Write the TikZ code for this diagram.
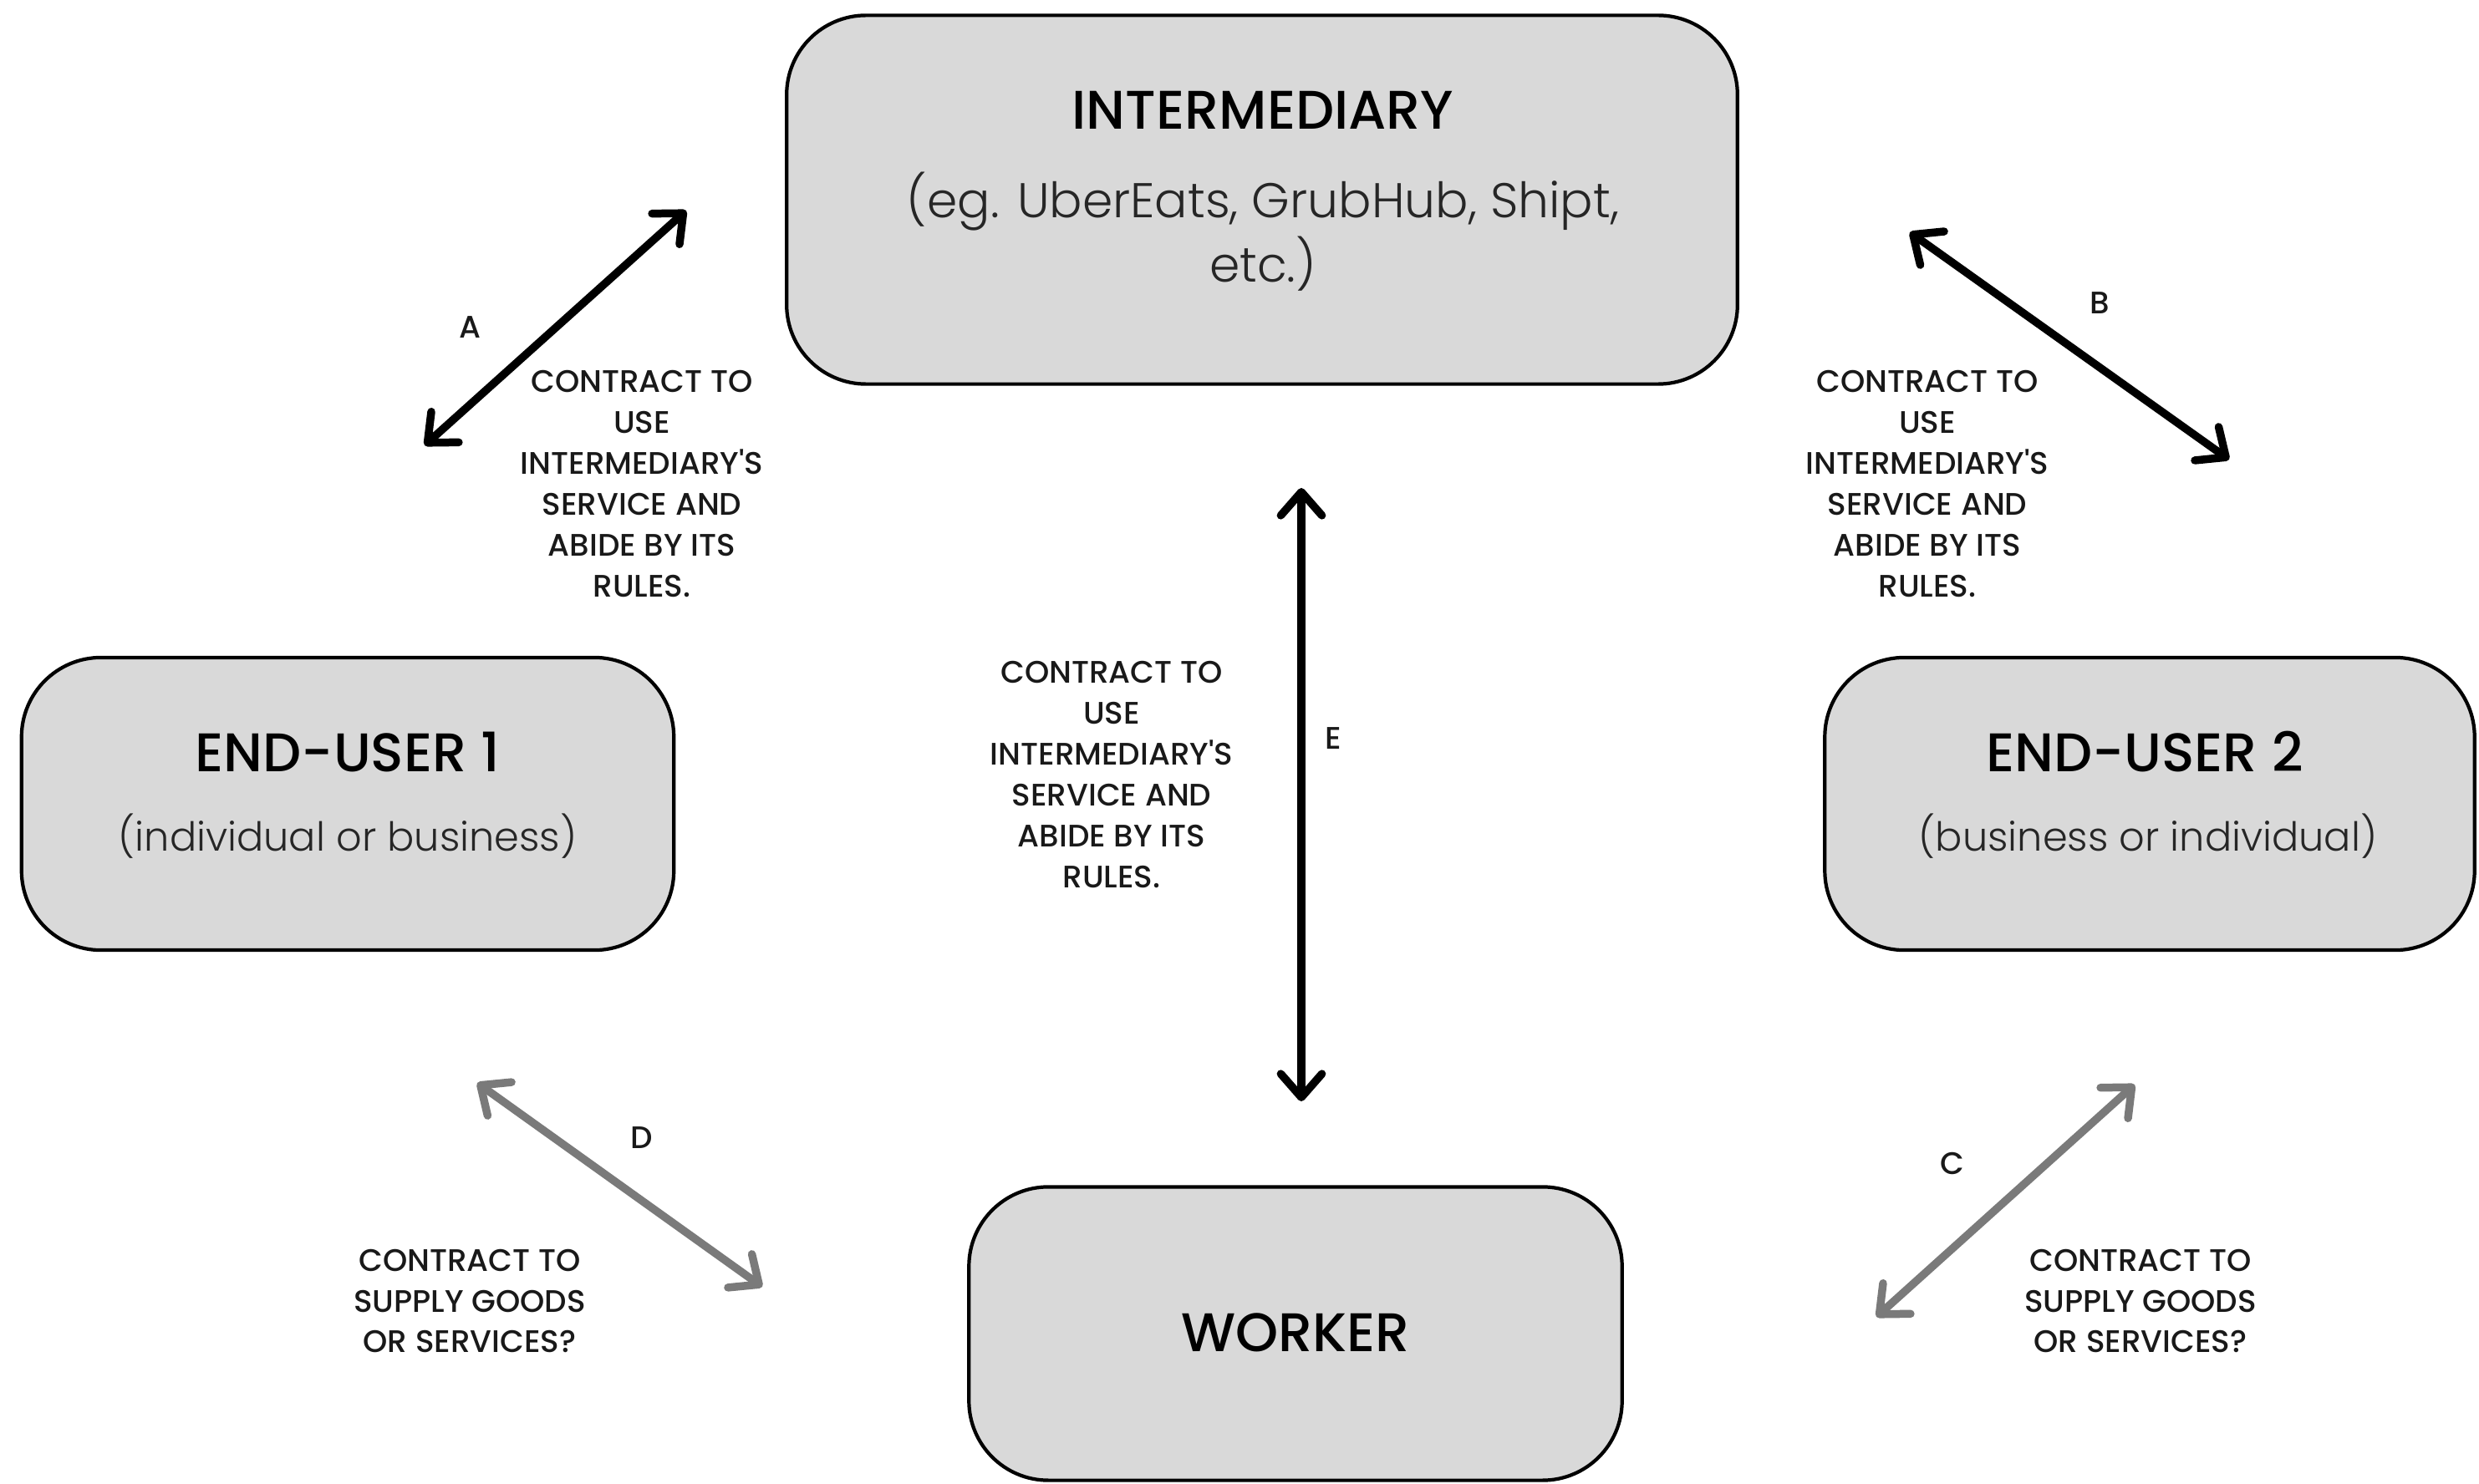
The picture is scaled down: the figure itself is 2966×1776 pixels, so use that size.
\documentclass[tikz,border=0pt]{standalone}
\usepackage{fontspec}
\setmainfont{Poppins}
\newfontfamily\mediumfont{Poppins Medium}
\newfontfamily\lightfont{Poppins Light}
\usepackage{tikz}
\usetikzlibrary{arrows.meta,positioning}
\definecolor{boxgray}{HTML}{D9D9D9}
\definecolor{linkgray}{HTML}{7A7A7A}
\definecolor{subgray}{HTML}{262626}

\begin{document}
\begin{tikzpicture}[x=0.01cm,y=-0.01cm,
  party/.style={draw=black,line width=1.2pt,fill=boxgray,rounded corners=0.95cm},
  headtext/.style={font=\mediumfont\fontsize{18.5}{22}\selectfont,text=black},
  subtext/.style={font=\lightfont\fontsize{13.6}{20}\selectfont,text=subgray,align=center},
  terms/.style={font=\mediumfont\fontsize{10.6}{13.9}\selectfont,text=black!90,align=center},
  tag/.style={font=\mediumfont\fontsize{10.6}{12}\selectfont,text=black!90},
  barb/.tip={Straight Barb[length=8pt,width=14pt,line cap=round,line join=round]},
  deal/.style={line width=2.7pt,barb-barb,draw=black},
  offer/.style={deal,draw=linkgray}]
\useasboundingbox (0,0) rectangle (2966,1776);
% Intermediary
\node[party, minimum width=11.37cm, minimum height=4.41cm] (intermediary) at (1510,239) {};
\node[headtext] (intermediary-title) at (1511,132) {INTERMEDIARY};
\node[subtext, font=\lightfont\fontsize{16.6}{22}\selectfont] (intermediary-sub) at (1511,277) {(eg. UberEats, GrubHub, Shipt,\\etc.)};
% End users
\node[party, minimum width=7.8cm, minimum height=3.5cm] (user-1) at (416,962) {};
\node[headtext] (user-1-title) at (416,900) {END-USER 1};
\node[subtext] (user-1-sub) at (416,1001) {(individual or business)};
\node[party, minimum width=7.77cm, minimum height=3.5cm] (user-2) at (2572,962) {};
\node[headtext] (user-2-title) at (2566,900) {END-USER 2};
\node[subtext] (user-2-sub) at (2570,1001) {(business or individual)};
% Worker
\node[party, minimum width=7.81cm, minimum height=3.51cm] (worker) at (1550,1596) {};
\node[headtext] (worker-title) at (1550,1595) {WORKER};
% Contracts with the intermediary
\coordinate (a-low) at (508,533);
\coordinate (a-high) at (821,252);
\draw[deal] (a-low) -- (a-high);
\node[tag] (a-tag) at (562,392) {A};
\node[terms] (a-terms) at (768,579) {CONTRACT TO\\USE\\INTERMEDIARY\textquotesingle S\\SERVICE AND\\ABIDE BY ITS\\RULES.};
\coordinate (b-high) at (2285,278);
\coordinate (b-low) at (2667,550);
\draw[deal] (b-high) -- (b-low);
\node[tag] (b-tag) at (2512,363) {B};
\node[terms] (b-terms) at (2306,579) {CONTRACT TO\\USE\\INTERMEDIARY\textquotesingle S\\SERVICE AND\\ABIDE BY ITS\\RULES.};
\coordinate (e-high) at (1557,584);
\coordinate (e-low) at (1557,1318);
\draw[deal] (e-high) -- (e-low);
\node[tag] (e-tag) at (1595,884) {E};
\node[terms] (e-terms) at (1330,927) {CONTRACT TO\\USE\\INTERMEDIARY\textquotesingle S\\SERVICE AND\\ABIDE BY ITS\\RULES.};
% Contracts between end users and worker
\coordinate (d-high) at (571,1296);
\coordinate (d-low) at (912,1540);
\draw[offer] (d-high) -- (d-low);
\node[tag] (d-tag) at (768,1362) {D};
\node[terms] (d-terms) at (562,1557) {CONTRACT TO\\SUPPLY GOODS\\OR SERVICES?};
\coordinate (c-high) at (2554,1298);
\coordinate (c-low) at (2245,1576);
\draw[offer] (c-high) -- (c-low);
\node[tag] (c-tag) at (2336,1392) {C};
\node[terms] (c-terms) at (2561,1557) {CONTRACT TO\\SUPPLY GOODS\\OR SERVICES?};
\end{tikzpicture}
\end{document}
